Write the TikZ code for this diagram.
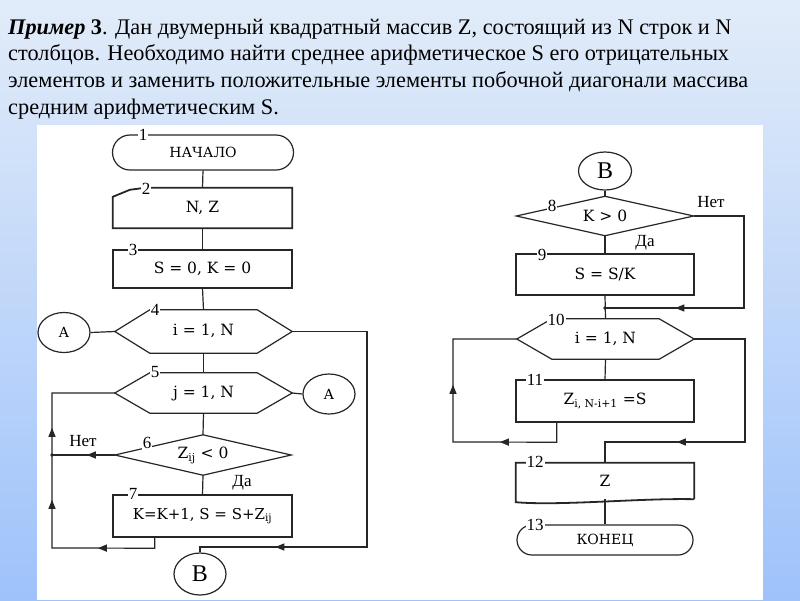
\documentclass[tikz,border=0pt]{standalone}
\usepackage{fontspec}
\setmainfont{Liberation Serif}
\newfontfamily\chartfont{DejaVu Serif}
\usetikzlibrary{arrows.meta,decorations.markings,calc,shapes.misc,shapes.geometric}
\tikzset{
  ln/.style={draw=black!85, line width=1.2pt},
  boxline/.style={draw=black!85, line width=1.8pt},
  shp/.style={rectangle, draw=none, inner sep=0pt, font=\chartfont\fontsize{15.5}{16}\selectfont},
  num/.style={fill=white, inner sep=1pt, font=\fontsize{17}{17}\selectfont},
  conn/.style={ellipse, draw=black!85, line width=1.2pt, fill=white, minimum width=52pt, minimum height=40pt, inner sep=0pt, font=\chartfont\fontsize{14}{15}\selectfont},
  lbl/.style={inner sep=0pt, font=\fontsize{17}{17}\selectfont},
  hdr/.style={anchor=base west, inner sep=0pt, font=\fontsize{22.3}{24}\selectfont},
  arr/.style={postaction={decorate,decoration={markings,mark=at position #1 with {\arrow{Triangle[length=9pt,width=7pt]}}}}},
}
\newcommand{\hexout}[2]{\draw[ln] (#1.west) -- ($(#1.north west)+(#2,0)$) -- ($(#1.north east)+(-#2,0)$) -- (#1.east) -- ($(#1.south east)+(-#2,0)$) -- ($(#1.south west)+(#2,0)$) -- cycle;}
\newcommand{\diaout}[1]{\draw[ln] (#1.west) -- (#1.north) -- (#1.east) -- (#1.south) -- cycle;}
\begin{document}
\begin{tikzpicture}[x=1pt,y=-1pt]
\useasboundingbox (0,0) rectangle (800,600);
% background
\shade[top color={rgb,255:red,226;green,236;blue,249}, bottom color={rgb,255:red,158;green,194;blue,250}] (0,0) rectangle (800,600);
\fill[white] (37,125) rectangle (763,600);

% header
\node[hdr] (t1) at (8,34) {\textbf{\textit{Пример}} \textbf{3}. Дан двумерный квадратный массив Z, состоящий из N строк и N};
\node[hdr] (t2) at (8,60.7) {столбцов. Необходимо найти среднее арифметическое S его отрицательных};
\node[hdr] (t3) at (8,87.4) {элементов и заменить положительные элементы побочной диагонали массива};
\node[hdr] (t4) at (8,114) {средним арифметическим S.};

% ---------- left chart ----------
\node[rounded rectangle, draw=black!85, line width=1.2pt, minimum width=181pt, minimum height=35pt, inner sep=0pt, font=\chartfont\fontsize{14}{14}\selectfont] (n1) at (203,152.5) {НАЧАЛО};
\node[shp, minimum width=179pt, minimum height=40pt] (n2) at (202.5,208) {N, Z};
\node[shp, minimum width=179pt, minimum height=38pt] (n3) at (202.5,269) {S = 0, K = 0};
\node[shp, minimum width=177pt, minimum height=43pt] (n4) at (203.5,331.5) {\raisebox{3pt}{i = 1, N}};
\node[shp, minimum width=177pt, minimum height=40pt] (n5) at (203.5,393) {\raisebox{3pt}{j = 1, N}};
\node[shp, minimum width=176pt, minimum height=40pt] (n6) at (203,455) {Z\textsubscript{ij} < 0};
\node[shp, minimum width=179pt, minimum height=42pt, font=\chartfont\fontsize{15}{16}\selectfont] (n7) at (202.5,516) {K=K+1, S = S+Z\textsubscript{ij}};
\node[conn] (A1) at (64,332.5) {A};
\node[conn] (A2) at (329,394) {A};
\node[conn, minimum height=42pt, font=\fontsize{24}{24}\selectfont] (B1) at (200,574) {В};

% outlines
\draw[boxline] ($(n2.north west)+(0,9)$) -- ($(n2.north west)+(17,2)$) -- ($(n2.north west)+(32,0)$) -- (n2.north east) -- (n2.south east) -- (n2.south west) -- cycle;
\draw[boxline] (n3.north west) rectangle (n3.south east);
\hexout{n4}{35}
\hexout{n5}{35}
\diaout{n6}
\draw[boxline] (n7.north west) rectangle (n7.south east);

% connectors
\draw[ln] (n1.south) -- (n2.north);
\draw[ln] (n2.south) -- (n3.north);
\draw[ln] (n3.south) -- (n4.north);
\draw[ln] (n4.south) -- (n5.north);
\draw[ln] (n5.south) -- (n6.north);
\draw[ln] (n6.south) -- (n7.north);
\draw[ln] (A1.east) -- (n4.west);
\draw[ln] (n5.east) -- (A2.west);
\coordinate (r1) at (367,547);
\draw[ln, arr=382pt] (n4.east) -- (367,331.5) -- (r1) -- (B1.north |- r1) -- (B1.north);
\coordinate (l1) at (52,548);
\draw[ln, arr=68pt, arr=162pt, arr=234pt] ($(n7.south west)+(42,0)$) -- ($(n7.south west)+(42,11)$) -- (l1) -- (l1 |- n5.west) -- (n5.west);
\draw[ln, arr=28pt] (n6.west) -- (l1 |- n6.west);
\fill[black!85] (l1 |- n6.west) circle (1.8pt);

\node[lbl] (net1) at (83,441) {Нет};
\node[lbl] (da1) at (242,483) {Да};

% numbers
\node[num] (k1) at (143,135) {1};
\node[num] (k2) at (146,189) {2};
\node[num] (k3) at (133,250) {3};
\node[num] (k4) at (155,310) {4};
\node[num] (k5) at (155,372) {5};
\node[num] (k6) at (147,443) {6};
\node[num] (k7) at (133,494) {7};

% ---------- right chart ----------
\node[conn, minimum width=53pt, minimum height=38pt, font=\fontsize{24}{24}\selectfont] (B2) at (605,171) {В};
\node[shp, minimum width=177pt, minimum height=39pt] (n8) at (605,216) {K > 0};
\node[shp, minimum width=177pt, minimum height=41pt] (n9) at (605,274.5) {S = S/K};
\node[shp, minimum width=177pt, minimum height=40pt] (n10) at (605.5,339) {\raisebox{3pt}{i = 1, N}};
\node[shp, minimum width=178pt, minimum height=42pt] (n11) at (605,401) {Z\textsubscript{i, N-i+1} =S};
\node[shp, minimum width=178pt, minimum height=36pt] (n12) at (605,481) {Z};
\node[rounded rectangle, draw=black!85, line width=1.2pt, minimum width=176pt, minimum height=30pt, inner sep=0pt, font=\chartfont\fontsize{14}{14}\selectfont] (n13) at (605,540) {КОНЕЦ};

\diaout{n8}
\draw[boxline] (n9.north west) rectangle (n9.south east);
\hexout{n10}{35}
\draw[boxline] (n11.north west) rectangle (n11.south east);
\draw[boxline] (n12.south east) -- (n12.north east) -- (n12.north west) -- ($(n12.south west)+(0,3)$) .. controls (560,506) and (640,498) .. (n12.south east);

\draw[ln] (B2.south) -- (n8.north);
\draw[ln] (n8.south) -- (n9.north);
\draw[ln] (n9.south) -- (n10.north);
\draw[ln] (n10.south) -- (n11.north);
\draw[ln] (n12.south) -- (n13.north);
\coordinate (r2) at (744,308);
\draw[ln, arr=211pt] (n8.east) -- (744,216) -- (r2) -- (n9.south |- r2);
\fill[black!85] (n9.south |- r2) circle (1.8pt);
\coordinate (l2) at (453,442);
\draw[ln, arr=77pt, arr=181pt] ($(n11.south west)+(41,0)$) -- ($(n11.south west)+(41,20)$) -- (l2) -- (l2 |- n10.west) -- (n10.west);
\coordinate (r3) at (745,442);
\draw[ln, arr=222pt] (n10.east) -- (745,339) -- (r3) -- (n12.north |- r3) -- (n12.north);

\node[lbl] (net2) at (711,202) {Нет};
\node[lbl] (da2) at (645,243) {Да};

\node[num] (k8) at (552,206) {8};
\node[num] (k9) at (542,255) {9};
\node[num] (k10) at (556,320) {10};
\node[num] (k11) at (535,380) {11};
\node[num] (k12) at (535,462) {12};
\node[num] (k13) at (535,525) {13};
\end{tikzpicture}
\end{document}
